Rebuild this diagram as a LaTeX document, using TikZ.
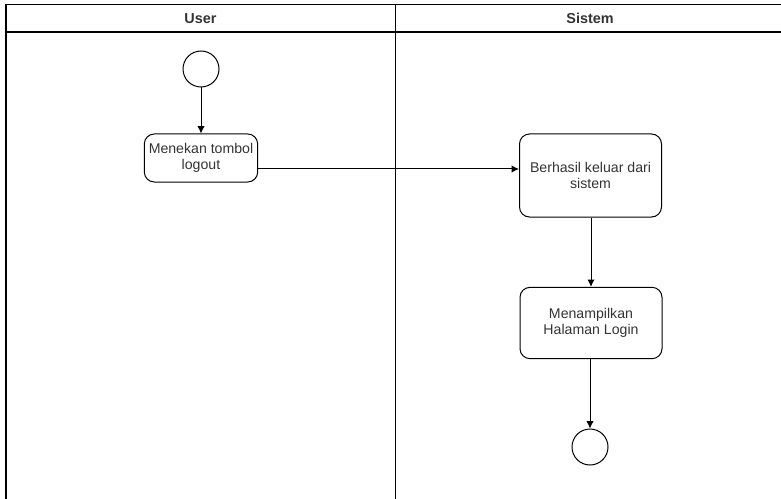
\documentclass[tikz,border=0pt]{standalone}
\usepackage{fontspec}
\setmainfont{Liberation Sans}
\usetikzlibrary{positioning,arrows.meta}
\definecolor{txtgray}{HTML}{333333}
\begin{document}
\begin{tikzpicture}[
                            x=0.75pt, y=-0.75pt,
                            >={Latex[length=5.5pt,width=5.5pt]},
                            line width=0.75pt,
                            act/.style={rectangle, rounded corners=7.5pt, draw, align=center, text=txtgray, font=\fontsize{10.6}{11.5}\selectfont},
                            state/.style={circle, draw, minimum size=27pt, inner sep=0pt},
                            lane/.style={line width=1.1pt},
                            lanetitle/.style={font=\bfseries\fontsize{10.8}{12}\selectfont, text=txtgray}
                        ]
                        \useasboundingbox (0,0) rectangle (781,499);
                        % Lanes
                        \draw [lane] (6,4.5) -- (781,4.5);
                        \draw [lane] (6,32) -- (781,32);
                        \draw [lane] (6,4.5) -- (6,499);
                        \draw [lane] (395.5,4.5) -- (395.5,499);
                        \node [lanetitle] (user) at (200.5,18.5) {User};
                        \node [lanetitle] (sistem) at (590,18.5) {Sistem};

                        % Blocks
                        \node [state] (start) at (201,69) {};
                        \node [act, minimum width=83.25pt, minimum height=36pt] (tekan) at (201,158) {Menekan tombol\\logout};
                        \node [act, minimum width=106.5pt, minimum height=62.25pt] (keluar) at (590.5,175.5) {Berhasil keluar dari\\sistem};
                        \node [act, minimum width=106.5pt, minimum height=53.5pt] (login) at (591,323) {Menampilkan\\Halaman Login};
                        \node [state] (end) at (590,447) {};

                        % Connections
                        \coordinate (out) at ([yshift=-8.25pt]tekan.east);
                        \draw [->] (start) -- (tekan);
                        \draw [->] (out) -- (out -| keluar.west);
                        \draw [->] (keluar.south -| login.north) -- (login.north);
                        \draw [->] (login.south -| end.north) -- (end.north);
                    \end{tikzpicture}
\end{document}
